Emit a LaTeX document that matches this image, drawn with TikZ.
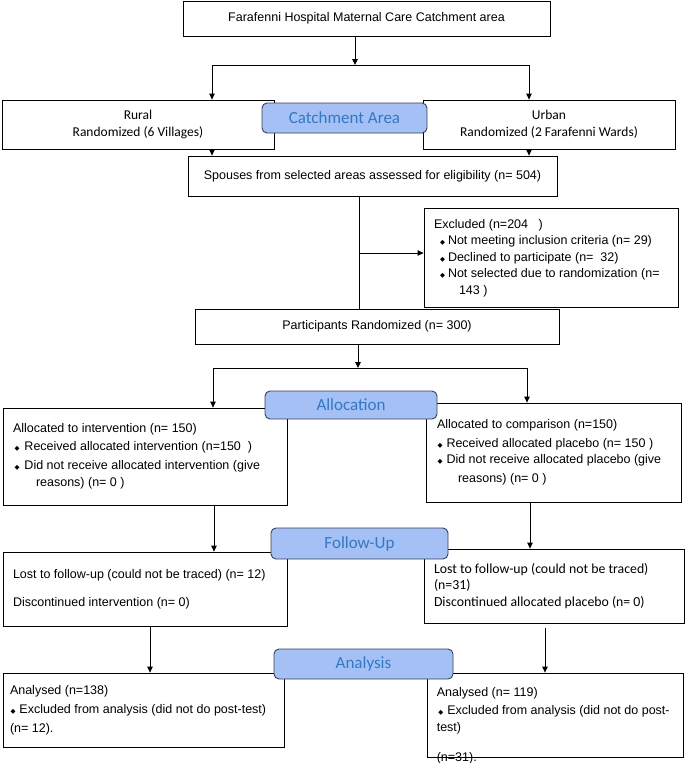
\documentclass[tikz,border=0pt]{standalone}
\usepackage{fontspec}
\setmainfont{Liberation Sans}
\newfontfamily\calfont{Carlito}
\newfontfamily\symfont{DejaVu Sans}
\usetikzlibrary{arrows.meta}
\definecolor{phasefill}{RGB}{164,192,244}
\definecolor{phasetext}{RGB}{52,120,196}
\definecolor{phaseline}{RGB}{55,65,85}
% small diamond bullet: #1 indent, #2 gap before text
\newcommand{\itemdot}[2]{\hspace*{#1}{\symfont\fontsize{6.5}{6.5}\selectfont ◆}\hspace{#2}}
\begin{document}
\begin{tikzpicture}[x=1pt,y=-1pt,
    box/.style={draw, line width=0.8pt, inner sep=0pt, font=\fontsize{12.5}{16.5}\selectfont},
    listbox/.style={box, align=flush left, inner xsep=10pt},
    areabox/.style={box, align=center, font=\calfont\fontsize{13.5}{17}\selectfont},
    phase/.style={draw=phaseline, fill=phasefill, rounded corners=5pt, line width=0.9pt, text=phasetext, inner sep=0pt, font=\calfont\fontsize{17}{20}\selectfont},
    arr/.style={-{Triangle[length=6pt,width=5.5pt]}, line width=1pt},
    link/.style={line width=1pt}]
    \useasboundingbox (0,0) rectangle (685,763);

    % enrolment
    \node[box, minimum width=367pt, minimum height=35pt] (catch) at (366.5,18.5)
    {Farafenni Hospital Maternal Care Catchment area};
    \node[areabox, minimum width=272pt, minimum height=49pt] (rural) at (138,124.5)
    {Rural\\Randomized (6 Villages)};
    \node[areabox, minimum width=252pt, minimum height=49pt] (urban) at (549,124.5)
    {Urban\\Randomized (2 Farafenni Wards)};
    \node[box, minimum width=369pt, minimum height=40pt] (elig) at (372.5,176)
    {Spouses from selected areas assessed for eligibility (n= 504)};
    \node[listbox, text width=234pt, minimum height=99pt] (excl) at (551,258)
    {Excluded (n=204\ \ \ )\\
    \itemdot{6pt}{3pt}Not meeting inclusion criteria (n= 29)\\
    \itemdot{6pt}{3pt}Declined to participate (n=\ \ 32)\\
    \mbox{\itemdot{6pt}{3pt}Not selected due to randomization (n=}\\
    \hspace*{25pt}143 )};
    \node[box, minimum width=364pt, minimum height=35pt] (rand) at (377,326.5)
    {Participants Randomized (n= 300)};

    % allocation
    \node[listbox, text width=264pt, minimum height=97pt] (alloc-l) at (145,456.5)
    {Allocated to intervention (n= 150)\\[2pt]
    \itemdot{1.5pt}{5pt}Received allocated intervention (n=150\ \ )\\[2pt]
    \mbox{\itemdot{1.5pt}{5pt}Did not receive allocated intervention (give}\\[1pt]
    \hspace*{23pt}reasons) (n= 0 )};
    \node[listbox, inner xsep=11pt, text width=233pt, minimum height=99pt] (alloc-r) at (553.5,452.5)
    {Allocated to comparison (n=150)\\[2.5pt]
    \itemdot{0.5pt}{4pt}Received allocated placebo (n= 150 )\\
    \mbox{\itemdot{0.5pt}{4pt}Did not receive allocated placebo (give}\\[2.5pt]
    \hspace*{21pt}reasons) (n= 0 )};

    % follow-up
    \node[listbox, text width=264pt, minimum height=74pt] (follow-l) at (145,589)
    {Lost to follow-up (could not be traced) (n= 12)\\[11.5pt]
    Discontinued intervention (n= 0)};
    \node[listbox, text width=240pt, minimum height=74pt, font=\calfont\fontsize{13.8}{16.5}\selectfont] (follow-r) at (554,586)
    {Lost to follow-up (could not be traced)\\(n=31)\\Discontinued allocated placebo (n= 0)};

    % analysis
    \node[listbox, inner xsep=7pt, text width=267pt, minimum height=74pt] (ana-l) at (143.5,710)
    {Analysed (n=138)\\[2.5pt]
    \mbox{\itemdot{0.5pt}{4pt}Excluded from analysis (did not do post-test)}\\[2.5pt]
    (n= 12).};
    \node[box, minimum width=256pt, minimum height=84pt] (ana-r) at (555,715) {};
    \node[anchor=north west, align=flush left, text width=236pt, inner sep=0pt, font=\fontsize{12.5}{17.5}\selectfont] (ana-r-txt)
    at ([xshift=10pt,yshift=-15pt]ana-r.north west)
    {Analysed (n= 119)\\
    \mbox{\itemdot{1.5pt}{4pt}Excluded from analysis (did not do post-}\\
    test)\\[12pt]
    (n=31).};

    % phase labels
    \node[phase, minimum width=165pt, minimum height=30pt] (ph-catch) at (344.5,118) {Catchment Area};
    \node[phase, minimum width=172pt, minimum height=28pt] (ph-alloc) at (351,405) {Allocation};
    \node[phase, minimum width=177pt, minimum height=31pt] (ph-follow) at (359.5,543.5) {Follow-Up};
    \node[phase, minimum width=179pt, minimum height=30pt] (ph-ana) at (363.5,664) {Analysis};

    % connectors
    \coordinate (split-a) at (355,65);
    \coordinate (split-al) at (212,65);
    \coordinate (split-ar) at (529,65);
    \draw[arr] (catch.south -| split-a) -- (split-a);
    \draw[link] (split-al) -- (split-ar);
    \draw[arr] (split-al) -- (split-al |- rural.north);
    \draw[arr] (split-ar) -- (split-ar |- urban.north);
    \draw[arr] (split-al |- rural.south) -- (split-al |- elig.north);
    \draw[arr] (split-ar |- urban.south) -- (split-ar |- elig.north);
    \coordinate (excl-j) at (359,253);
    \draw[link] (elig.south -| excl-j) -- (rand.north -| excl-j);
    \draw[arr] (excl-j) -- (excl-j -| excl.west);
    \coordinate (split-b) at (358,368);
    \coordinate (split-bl) at (213,368);
    \coordinate (split-br) at (527,368);
    \draw[arr] (rand.south -| split-b) -- (split-b);
    \draw[link] (split-bl) -- (split-br);
    \draw[arr] (split-bl) -- (split-bl |- alloc-l.north);
    \draw[arr] (split-br) -- (split-br |- alloc-r.north);
    \draw[arr] (alloc-l.south -| 214,0) -- (follow-l.north -| 214,0);
    \draw[arr] (alloc-r.south -| 530,0) -- (follow-r.north -| 530,0);
    \draw[arr] (follow-l.south -| 150,0) -- (ana-l.north -| 150,0);
    \draw[arr] ([yshift=-5pt]follow-r.south -| 545,0) -- (ana-r.north -| 545,0);
\end{tikzpicture}
\end{document}
